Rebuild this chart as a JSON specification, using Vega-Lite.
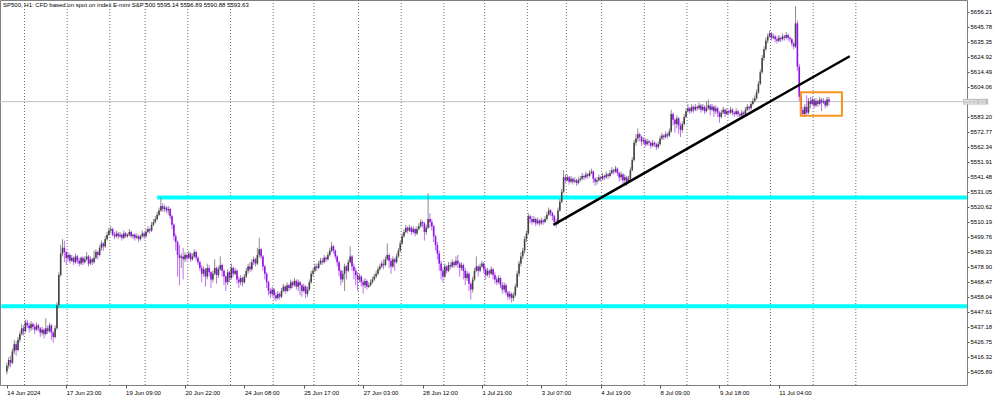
{
"$schema": "https://vega.github.io/schema/vega-lite/v6.json",
"width": 967,
"height": 385,
"autosize": {"type": "none"},
"padding": {"left": 0, "top": 0, "right": 33, "bottom": 12},
"background": "#ffffff",
"config": {"view": {"stroke": "#808080", "strokeWidth": 1}, "font": "Liberation Sans"},
"title": {"text": "SP500, H1:  CFD based on spot on index E-mini S&P 500  5595.14 5596.89 5590.88 5593.63", "anchor": "start", "frame": "group", "orient": "top", "offset": -8, "dx": 3, "fontSize": 6, "fontWeight": "normal", "color": "#000000", "font": "Liberation Sans"},
"datasets": {
"grid": [{"g":9.5},{"g":32.5},{"g":55.5},{"g":74.5},{"g":97.5},{"g":120.5},{"g":143.5},{"g":165.5},{"g":189.5},{"g":212.5},{"g":235.5},{"g":257.5},{"g":280.5},{"g":301.5},{"g":320.5},{"g":343.5},{"g":366.5},{"g":388.5},{"g":411.5},{"g":434.5},{"g":457.5}],
"levels": [{"a":-3,"b":518,"p":5451.3},{"a":81,"b":518,"p":5526.9}],
"trend": [{"a":294.5,"b":454.2,"p1":5507.9,"p2":5625.2}],
"box": [{"a":427.8,"b":450,"p1":5600.1,"p2":5583.9}],
"bars": [
{"i":0,"o":5406,"h":5412,"l":5404,"c":5410},{"i":1,"o":5410,"h":5416,"l":5408,"c":5414},{"i":2,"o":5414,"h":5417,"l":5409,"c":5412},{"i":3,"o":5412,"h":5422,"l":5411,"c":5420},{"i":4,"o":5420,"h":5428,"l":5418,"c":5425},
{"i":5,"o":5425,"h":5427,"l":5417,"c":5421},{"i":6,"o":5421,"h":5430,"l":5420,"c":5428},{"i":7,"o":5428,"h":5434,"l":5426,"c":5432},{"i":8,"o":5432,"h":5439,"l":5431,"c":5436},{"i":9,"o":5436,"h":5438,"l":5431,"c":5434},
{"i":10,"o":5434,"h":5442,"l":5433,"c":5440},{"i":11,"o":5440,"h":5442,"l":5436,"c":5438},{"i":12,"o":5438,"h":5440,"l":5433,"c":5436},{"i":13,"o":5436,"h":5441,"l":5434,"c":5439},{"i":14,"o":5439,"h":5440,"l":5435,"c":5437},
{"i":15,"o":5437,"h":5439,"l":5432,"c":5435},{"i":16,"o":5435,"h":5440,"l":5434,"c":5438},{"i":17,"o":5438,"h":5439,"l":5434,"c":5436},{"i":18,"o":5436,"h":5437,"l":5430,"c":5433},{"i":19,"o":5433,"h":5437,"l":5431,"c":5435},
{"i":20,"o":5435,"h":5436,"l":5429,"c":5432},{"i":21,"o":5432,"h":5443,"l":5431,"c":5436},{"i":22,"o":5436,"h":5438,"l":5432,"c":5434},{"i":23,"o":5434,"h":5440,"l":5433,"c":5438},{"i":24,"o":5438,"h":5439,"l":5428,"c":5433},
{"i":25,"o":5433,"h":5434,"l":5426,"c":5430},{"i":26,"o":5430,"h":5438,"l":5429,"c":5436},{"i":27,"o":5436,"h":5454,"l":5435,"c":5452},{"i":28,"o":5452,"h":5475,"l":5450,"c":5473},{"i":29,"o":5473,"h":5494,"l":5472,"c":5488},
{"i":30,"o":5488,"h":5498,"l":5486,"c":5492},{"i":31,"o":5492,"h":5497,"l":5482,"c":5489},{"i":32,"o":5489,"h":5490,"l":5480,"c":5485},{"i":33,"o":5485,"h":5489,"l":5483,"c":5487},{"i":34,"o":5487,"h":5488,"l":5481,"c":5483},
{"i":35,"o":5483,"h":5487,"l":5482,"c":5485},{"i":36,"o":5485,"h":5486,"l":5480,"c":5482},{"i":37,"o":5482,"h":5488,"l":5481,"c":5486},{"i":38,"o":5486,"h":5487,"l":5481,"c":5483},{"i":39,"o":5483,"h":5485,"l":5479,"c":5481},
{"i":40,"o":5481,"h":5486,"l":5480,"c":5485},{"i":41,"o":5485,"h":5486,"l":5480,"c":5482},{"i":42,"o":5482,"h":5486,"l":5481,"c":5484},{"i":43,"o":5484,"h":5489,"l":5483,"c":5486},{"i":44,"o":5486,"h":5487,"l":5479,"c":5481},
{"i":45,"o":5481,"h":5486,"l":5480,"c":5484},{"i":46,"o":5484,"h":5485,"l":5480,"c":5482},{"i":47,"o":5482,"h":5490,"l":5481,"c":5485},{"i":48,"o":5485,"h":5491,"l":5484,"c":5489},{"i":49,"o":5489,"h":5490,"l":5484,"c":5487},
{"i":50,"o":5487,"h":5494,"l":5486,"c":5492},{"i":51,"o":5492,"h":5497,"l":5490,"c":5495},{"i":52,"o":5495,"h":5496,"l":5490,"c":5493},{"i":53,"o":5493,"h":5500,"l":5492,"c":5498},{"i":54,"o":5498,"h":5503,"l":5497,"c":5501},
{"i":55,"o":5501,"h":5506,"l":5500,"c":5504},{"i":56,"o":5504,"h":5507,"l":5502,"c":5505},{"i":57,"o":5505,"h":5506,"l":5500,"c":5501},{"i":58,"o":5501,"h":5503,"l":5498,"c":5500},{"i":59,"o":5500,"h":5504,"l":5499,"c":5502},
{"i":60,"o":5502,"h":5503,"l":5498,"c":5500},{"i":61,"o":5500,"h":5503,"l":5499,"c":5501},{"i":62,"o":5501,"h":5502,"l":5497,"c":5499},{"i":63,"o":5499,"h":5504,"l":5498,"c":5502},{"i":64,"o":5502,"h":5503,"l":5499,"c":5500},
{"i":65,"o":5500,"h":5502,"l":5499,"c":5501},{"i":66,"o":5501,"h":5505,"l":5500,"c":5503},{"i":67,"o":5503,"h":5504,"l":5499,"c":5500},{"i":68,"o":5500,"h":5502,"l":5498,"c":5501},{"i":69,"o":5501,"h":5502,"l":5497,"c":5499},
{"i":70,"o":5499,"h":5502,"l":5498,"c":5500},{"i":71,"o":5500,"h":5501,"l":5496,"c":5498},{"i":72,"o":5498,"h":5501,"l":5497,"c":5500},{"i":73,"o":5500,"h":5504,"l":5499,"c":5502},{"i":74,"o":5502,"h":5503,"l":5498,"c":5500},
{"i":75,"o":5500,"h":5505,"l":5499,"c":5503},{"i":76,"o":5503,"h":5507,"l":5502,"c":5505},{"i":77,"o":5505,"h":5506,"l":5502,"c":5504},{"i":78,"o":5504,"h":5510,"l":5503,"c":5508},{"i":79,"o":5508,"h":5512,"l":5507,"c":5510},
{"i":80,"o":5510,"h":5514,"l":5509,"c":5512},{"i":81,"o":5512,"h":5517,"l":5511,"c":5515},{"i":82,"o":5515,"h":5520,"l":5514,"c":5518},{"i":83,"o":5518,"h":5527,"l":5517,"c":5521},{"i":84,"o":5521,"h":5523,"l":5517,"c":5519},
{"i":85,"o":5519,"h":5522,"l":5517,"c":5520},{"i":86,"o":5520,"h":5521,"l":5516,"c":5518},{"i":87,"o":5518,"h":5521,"l":5515,"c":5519},{"i":88,"o":5519,"h":5520,"l":5512,"c":5514},{"i":89,"o":5514,"h":5515,"l":5505,"c":5508},
{"i":90,"o":5508,"h":5509,"l":5497,"c":5500},{"i":91,"o":5500,"h":5502,"l":5490,"c":5496},{"i":92,"o":5496,"h":5497,"l":5472,"c":5487},{"i":93,"o":5487,"h":5494,"l":5466,"c":5485},{"i":94,"o":5485,"h":5488,"l":5478,"c":5486},
{"i":95,"o":5486,"h":5492,"l":5470,"c":5484},{"i":96,"o":5484,"h":5489,"l":5482,"c":5487},{"i":97,"o":5487,"h":5488,"l":5483,"c":5485},{"i":98,"o":5485,"h":5490,"l":5484,"c":5488},{"i":99,"o":5488,"h":5489,"l":5482,"c":5484},
{"i":100,"o":5484,"h":5488,"l":5483,"c":5486},{"i":101,"o":5486,"h":5491,"l":5485,"c":5489},{"i":102,"o":5489,"h":5490,"l":5483,"c":5485},{"i":103,"o":5485,"h":5486,"l":5480,"c":5482},{"i":104,"o":5482,"h":5483,"l":5476,"c":5478},
{"i":105,"o":5478,"h":5480,"l":5468,"c":5474},{"i":106,"o":5474,"h":5479,"l":5472,"c":5477},{"i":107,"o":5477,"h":5478,"l":5465,"c":5472},{"i":108,"o":5472,"h":5481,"l":5470,"c":5478},{"i":109,"o":5478,"h":5480,"l":5472,"c":5475},
{"i":110,"o":5475,"h":5476,"l":5464,"c":5470},{"i":111,"o":5470,"h":5476,"l":5468,"c":5474},{"i":112,"o":5474,"h":5484,"l":5473,"c":5478},{"i":113,"o":5478,"h":5479,"l":5467,"c":5473},{"i":114,"o":5473,"h":5479,"l":5471,"c":5477},
{"i":115,"o":5477,"h":5486,"l":5476,"c":5480},{"i":116,"o":5480,"h":5481,"l":5472,"c":5476},{"i":117,"o":5476,"h":5477,"l":5466,"c":5472},{"i":118,"o":5472,"h":5473,"l":5462,"c":5468},{"i":119,"o":5468,"h":5477,"l":5466,"c":5475},
{"i":120,"o":5475,"h":5476,"l":5468,"c":5471},{"i":121,"o":5471,"h":5481,"l":5470,"c":5478},{"i":122,"o":5478,"h":5479,"l":5472,"c":5474},{"i":123,"o":5474,"h":5478,"l":5473,"c":5476},{"i":124,"o":5476,"h":5477,"l":5467,"c":5470},
{"i":125,"o":5470,"h":5472,"l":5464,"c":5468},{"i":126,"o":5468,"h":5473,"l":5466,"c":5471},{"i":127,"o":5471,"h":5472,"l":5465,"c":5468},{"i":128,"o":5468,"h":5474,"l":5467,"c":5472},{"i":129,"o":5472,"h":5478,"l":5471,"c":5476},
{"i":130,"o":5476,"h":5481,"l":5474,"c":5479},{"i":131,"o":5479,"h":5482,"l":5475,"c":5477},{"i":132,"o":5477,"h":5484,"l":5476,"c":5482},{"i":133,"o":5482,"h":5486,"l":5480,"c":5484},{"i":134,"o":5484,"h":5485,"l":5479,"c":5481},
{"i":135,"o":5481,"h":5492,"l":5480,"c":5487},{"i":136,"o":5487,"h":5499,"l":5485,"c":5491},{"i":137,"o":5491,"h":5492,"l":5484,"c":5486},{"i":138,"o":5486,"h":5487,"l":5476,"c":5479},{"i":139,"o":5479,"h":5480,"l":5470,"c":5474},
{"i":140,"o":5474,"h":5475,"l":5464,"c":5468},{"i":141,"o":5468,"h":5469,"l":5459,"c":5462},{"i":142,"o":5462,"h":5464,"l":5457,"c":5460},{"i":143,"o":5460,"h":5465,"l":5458,"c":5463},{"i":144,"o":5463,"h":5464,"l":5456,"c":5459},
{"i":145,"o":5459,"h":5461,"l":5455,"c":5457},{"i":146,"o":5457,"h":5462,"l":5456,"c":5460},{"i":147,"o":5460,"h":5461,"l":5456,"c":5458},{"i":148,"o":5458,"h":5464,"l":5457,"c":5462},{"i":149,"o":5462,"h":5467,"l":5461,"c":5465},
{"i":150,"o":5465,"h":5466,"l":5460,"c":5462},{"i":151,"o":5462,"h":5468,"l":5461,"c":5466},{"i":152,"o":5466,"h":5467,"l":5462,"c":5464},{"i":153,"o":5464,"h":5470,"l":5463,"c":5468},{"i":154,"o":5468,"h":5469,"l":5464,"c":5466},
{"i":155,"o":5466,"h":5471,"l":5465,"c":5469},{"i":156,"o":5469,"h":5470,"l":5463,"c":5465},{"i":157,"o":5465,"h":5470,"l":5462,"c":5468},{"i":158,"o":5468,"h":5469,"l":5459,"c":5466},{"i":159,"o":5466,"h":5467,"l":5458,"c":5462},
{"i":160,"o":5462,"h":5467,"l":5461,"c":5465},{"i":161,"o":5465,"h":5466,"l":5457,"c":5460},{"i":162,"o":5460,"h":5465,"l":5458,"c":5463},{"i":163,"o":5463,"h":5470,"l":5462,"c":5468},{"i":164,"o":5468,"h":5476,"l":5467,"c":5474},
{"i":165,"o":5474,"h":5478,"l":5472,"c":5476},{"i":166,"o":5476,"h":5481,"l":5475,"c":5479},{"i":167,"o":5479,"h":5481,"l":5476,"c":5478},{"i":168,"o":5478,"h":5483,"l":5477,"c":5481},{"i":169,"o":5481,"h":5485,"l":5480,"c":5483},
{"i":170,"o":5483,"h":5485,"l":5480,"c":5482},{"i":171,"o":5482,"h":5487,"l":5481,"c":5485},{"i":172,"o":5485,"h":5486,"l":5482,"c":5484},{"i":173,"o":5484,"h":5489,"l":5483,"c":5487},{"i":174,"o":5487,"h":5492,"l":5486,"c":5490},
{"i":175,"o":5490,"h":5496,"l":5489,"c":5493},{"i":176,"o":5493,"h":5494,"l":5488,"c":5490},{"i":177,"o":5490,"h":5491,"l":5484,"c":5486},{"i":178,"o":5486,"h":5487,"l":5479,"c":5482},{"i":179,"o":5482,"h":5483,"l":5472,"c":5476},
{"i":180,"o":5476,"h":5477,"l":5466,"c":5470},{"i":181,"o":5470,"h":5476,"l":5468,"c":5474},{"i":182,"o":5474,"h":5481,"l":5462,"c":5479},{"i":183,"o":5479,"h":5480,"l":5470,"c":5476},{"i":184,"o":5476,"h":5484,"l":5475,"c":5482},
{"i":185,"o":5482,"h":5493,"l":5481,"c":5486},{"i":186,"o":5486,"h":5487,"l":5476,"c":5479},{"i":187,"o":5479,"h":5481,"l":5470,"c":5476},{"i":188,"o":5476,"h":5478,"l":5466,"c":5473},{"i":189,"o":5473,"h":5475,"l":5462,"c":5470},
{"i":190,"o":5470,"h":5474,"l":5468,"c":5472},{"i":191,"o":5472,"h":5473,"l":5465,"c":5468},{"i":192,"o":5468,"h":5470,"l":5460,"c":5466},{"i":193,"o":5466,"h":5471,"l":5464,"c":5469},{"i":194,"o":5469,"h":5470,"l":5463,"c":5465},
{"i":195,"o":5465,"h":5468,"l":5464,"c":5466},{"i":196,"o":5466,"h":5470,"l":5465,"c":5468},{"i":197,"o":5468,"h":5472,"l":5467,"c":5470},{"i":198,"o":5470,"h":5474,"l":5469,"c":5472},{"i":199,"o":5472,"h":5476,"l":5471,"c":5474},
{"i":200,"o":5474,"h":5479,"l":5473,"c":5477},{"i":201,"o":5477,"h":5481,"l":5476,"c":5479},{"i":202,"o":5479,"h":5483,"l":5478,"c":5481},{"i":203,"o":5481,"h":5484,"l":5477,"c":5480},{"i":204,"o":5480,"h":5486,"l":5479,"c":5484},
{"i":205,"o":5484,"h":5495,"l":5483,"c":5487},{"i":206,"o":5487,"h":5488,"l":5478,"c":5483},{"i":207,"o":5483,"h":5485,"l":5474,"c":5479},{"i":208,"o":5479,"h":5486,"l":5478,"c":5484},{"i":209,"o":5484,"h":5485,"l":5476,"c":5482},
{"i":210,"o":5482,"h":5488,"l":5481,"c":5486},{"i":211,"o":5486,"h":5492,"l":5485,"c":5490},{"i":212,"o":5490,"h":5497,"l":5489,"c":5495},{"i":213,"o":5495,"h":5502,"l":5494,"c":5500},{"i":214,"o":5500,"h":5505,"l":5499,"c":5503},
{"i":215,"o":5503,"h":5508,"l":5502,"c":5506},{"i":216,"o":5506,"h":5507,"l":5502,"c":5504},{"i":217,"o":5504,"h":5508,"l":5503,"c":5506},{"i":218,"o":5506,"h":5507,"l":5501,"c":5503},{"i":219,"o":5503,"h":5507,"l":5502,"c":5505},
{"i":220,"o":5505,"h":5506,"l":5500,"c":5502},{"i":221,"o":5502,"h":5507,"l":5501,"c":5505},{"i":222,"o":5505,"h":5509,"l":5504,"c":5507},{"i":223,"o":5507,"h":5512,"l":5506,"c":5510},{"i":224,"o":5510,"h":5511,"l":5506,"c":5509},
{"i":225,"o":5509,"h":5510,"l":5497,"c":5503},{"i":226,"o":5503,"h":5508,"l":5501,"c":5506},{"i":227,"o":5506,"h":5530,"l":5505,"c":5512},{"i":228,"o":5512,"h":5516,"l":5506,"c":5510},{"i":229,"o":5510,"h":5512,"l":5504,"c":5507},
{"i":230,"o":5507,"h":5508,"l":5496,"c":5500},{"i":231,"o":5500,"h":5501,"l":5490,"c":5494},{"i":232,"o":5494,"h":5496,"l":5484,"c":5488},{"i":233,"o":5488,"h":5490,"l":5476,"c":5481},{"i":234,"o":5481,"h":5483,"l":5470,"c":5476},
{"i":235,"o":5476,"h":5478,"l":5468,"c":5472},{"i":236,"o":5472,"h":5481,"l":5471,"c":5479},{"i":237,"o":5479,"h":5480,"l":5474,"c":5476},{"i":238,"o":5476,"h":5482,"l":5475,"c":5480},{"i":239,"o":5480,"h":5482,"l":5477,"c":5479},
{"i":240,"o":5479,"h":5484,"l":5478,"c":5482},{"i":241,"o":5482,"h":5483,"l":5478,"c":5480},{"i":242,"o":5480,"h":5486,"l":5479,"c":5483},{"i":243,"o":5483,"h":5487,"l":5478,"c":5481},{"i":244,"o":5481,"h":5482,"l":5472,"c":5478},
{"i":245,"o":5478,"h":5482,"l":5476,"c":5480},{"i":246,"o":5480,"h":5481,"l":5470,"c":5476},{"i":247,"o":5476,"h":5478,"l":5466,"c":5471},{"i":248,"o":5471,"h":5476,"l":5469,"c":5474},{"i":249,"o":5474,"h":5475,"l":5462,"c":5467},
{"i":250,"o":5467,"h":5468,"l":5456,"c":5463},{"i":251,"o":5463,"h":5472,"l":5461,"c":5470},{"i":252,"o":5470,"h":5478,"l":5469,"c":5476},{"i":253,"o":5476,"h":5486,"l":5475,"c":5479},{"i":254,"o":5479,"h":5480,"l":5472,"c":5476},
{"i":255,"o":5476,"h":5481,"l":5475,"c":5479},{"i":256,"o":5479,"h":5483,"l":5478,"c":5481},{"i":257,"o":5481,"h":5482,"l":5474,"c":5477},{"i":258,"o":5477,"h":5479,"l":5470,"c":5473},{"i":259,"o":5473,"h":5478,"l":5472,"c":5476},
{"i":260,"o":5476,"h":5477,"l":5471,"c":5474},{"i":261,"o":5474,"h":5479,"l":5473,"c":5477},{"i":262,"o":5477,"h":5478,"l":5470,"c":5473},{"i":263,"o":5473,"h":5475,"l":5467,"c":5470},{"i":264,"o":5470,"h":5472,"l":5466,"c":5468},
{"i":265,"o":5468,"h":5473,"l":5467,"c":5471},{"i":266,"o":5471,"h":5472,"l":5464,"c":5466},{"i":267,"o":5466,"h":5468,"l":5460,"c":5463},{"i":268,"o":5463,"h":5468,"l":5461,"c":5466},{"i":269,"o":5466,"h":5467,"l":5459,"c":5461},
{"i":270,"o":5461,"h":5462,"l":5456,"c":5458},{"i":271,"o":5458,"h":5462,"l":5456,"c":5460},{"i":272,"o":5460,"h":5461,"l":5454,"c":5457},{"i":273,"o":5457,"h":5461,"l":5455,"c":5459},{"i":274,"o":5459,"h":5467,"l":5458,"c":5465},
{"i":275,"o":5465,"h":5476,"l":5464,"c":5474},{"i":276,"o":5474,"h":5483,"l":5472,"c":5481},{"i":277,"o":5481,"h":5489,"l":5479,"c":5486},{"i":278,"o":5486,"h":5492,"l":5484,"c":5490},{"i":279,"o":5490,"h":5500,"l":5488,"c":5498},
{"i":280,"o":5498,"h":5504,"l":5496,"c":5502},{"i":281,"o":5502,"h":5516,"l":5501,"c":5514},{"i":282,"o":5514,"h":5515,"l":5509,"c":5512},{"i":283,"o":5512,"h":5514,"l":5508,"c":5510},{"i":284,"o":5510,"h":5514,"l":5509,"c":5512},
{"i":285,"o":5512,"h":5513,"l":5507,"c":5509},{"i":286,"o":5509,"h":5513,"l":5508,"c":5511},{"i":287,"o":5511,"h":5512,"l":5507,"c":5509},{"i":288,"o":5509,"h":5513,"l":5508,"c":5511},{"i":289,"o":5511,"h":5512,"l":5508,"c":5510},
{"i":290,"o":5510,"h":5514,"l":5509,"c":5512},{"i":291,"o":5512,"h":5517,"l":5511,"c":5515},{"i":292,"o":5515,"h":5520,"l":5514,"c":5518},{"i":293,"o":5518,"h":5519,"l":5514,"c":5516},{"i":294,"o":5516,"h":5517,"l":5511,"c":5514},
{"i":295,"o":5514,"h":5515,"l":5508,"c":5510},{"i":296,"o":5510,"h":5512,"l":5506,"c":5509},{"i":297,"o":5509,"h":5520,"l":5508,"c":5518},{"i":298,"o":5518,"h":5526,"l":5517,"c":5524},{"i":299,"o":5524,"h":5533,"l":5523,"c":5531},
{"i":300,"o":5531,"h":5546,"l":5530,"c":5541},{"i":301,"o":5541,"h":5543,"l":5537,"c":5539},{"i":302,"o":5539,"h":5543,"l":5538,"c":5541},{"i":303,"o":5541,"h":5542,"l":5536,"c":5538},{"i":304,"o":5538,"h":5542,"l":5537,"c":5540},
{"i":305,"o":5540,"h":5541,"l":5536,"c":5538},{"i":306,"o":5538,"h":5541,"l":5537,"c":5539},{"i":307,"o":5539,"h":5540,"l":5535,"c":5537},{"i":308,"o":5537,"h":5541,"l":5536,"c":5539},{"i":309,"o":5539,"h":5542,"l":5538,"c":5540},
{"i":310,"o":5540,"h":5544,"l":5539,"c":5542},{"i":311,"o":5542,"h":5543,"l":5539,"c":5541},{"i":312,"o":5541,"h":5545,"l":5540,"c":5543},{"i":313,"o":5543,"h":5544,"l":5540,"c":5542},{"i":314,"o":5542,"h":5546,"l":5541,"c":5544},
{"i":315,"o":5544,"h":5547,"l":5543,"c":5545},{"i":316,"o":5545,"h":5546,"l":5537,"c":5540},{"i":317,"o":5540,"h":5541,"l":5535,"c":5538},{"i":318,"o":5538,"h":5541,"l":5536,"c":5539},{"i":319,"o":5539,"h":5543,"l":5538,"c":5541},
{"i":320,"o":5541,"h":5542,"l":5538,"c":5540},{"i":321,"o":5540,"h":5544,"l":5539,"c":5542},{"i":322,"o":5542,"h":5543,"l":5539,"c":5541},{"i":323,"o":5541,"h":5545,"l":5540,"c":5543},{"i":324,"o":5543,"h":5544,"l":5540,"c":5542},
{"i":325,"o":5542,"h":5546,"l":5541,"c":5544},{"i":326,"o":5544,"h":5548,"l":5543,"c":5546},{"i":327,"o":5546,"h":5547,"l":5543,"c":5545},{"i":328,"o":5545,"h":5549,"l":5544,"c":5547},{"i":329,"o":5547,"h":5548,"l":5542,"c":5544},
{"i":330,"o":5544,"h":5545,"l":5538,"c":5541},{"i":331,"o":5541,"h":5545,"l":5539,"c":5543},{"i":332,"o":5543,"h":5544,"l":5536,"c":5539},{"i":333,"o":5539,"h":5543,"l":5537,"c":5541},{"i":334,"o":5541,"h":5542,"l":5535,"c":5538},
{"i":335,"o":5538,"h":5542,"l":5537,"c":5540},{"i":336,"o":5540,"h":5548,"l":5539,"c":5546},{"i":337,"o":5546,"h":5555,"l":5545,"c":5553},{"i":338,"o":5553,"h":5567,"l":5552,"c":5565},{"i":339,"o":5565,"h":5571,"l":5563,"c":5568},
{"i":340,"o":5568,"h":5575,"l":5566,"c":5571},{"i":341,"o":5571,"h":5572,"l":5566,"c":5569},{"i":342,"o":5569,"h":5570,"l":5563,"c":5566},{"i":343,"o":5566,"h":5569,"l":5564,"c":5567},{"i":344,"o":5567,"h":5568,"l":5562,"c":5564},
{"i":345,"o":5564,"h":5568,"l":5563,"c":5566},{"i":346,"o":5566,"h":5567,"l":5563,"c":5565},{"i":347,"o":5565,"h":5566,"l":5561,"c":5563},{"i":348,"o":5563,"h":5567,"l":5562,"c":5565},{"i":349,"o":5565,"h":5566,"l":5562,"c":5564},
{"i":350,"o":5564,"h":5565,"l":5560,"c":5562},{"i":351,"o":5562,"h":5566,"l":5561,"c":5564},{"i":352,"o":5564,"h":5570,"l":5563,"c":5568},{"i":353,"o":5568,"h":5572,"l":5567,"c":5570},{"i":354,"o":5570,"h":5571,"l":5567,"c":5569},
{"i":355,"o":5569,"h":5573,"l":5568,"c":5571},{"i":356,"o":5571,"h":5572,"l":5568,"c":5570},{"i":357,"o":5570,"h":5575,"l":5569,"c":5573},{"i":358,"o":5573,"h":5588,"l":5572,"c":5585},{"i":359,"o":5585,"h":5586,"l":5577,"c":5581},
{"i":360,"o":5581,"h":5582,"l":5572,"c":5578},{"i":361,"o":5578,"h":5584,"l":5575,"c":5582},{"i":362,"o":5582,"h":5583,"l":5571,"c":5577},{"i":363,"o":5577,"h":5579,"l":5569,"c":5574},{"i":364,"o":5574,"h":5580,"l":5572,"c":5578},
{"i":365,"o":5578,"h":5585,"l":5577,"c":5583},{"i":366,"o":5583,"h":5589,"l":5582,"c":5587},{"i":367,"o":5587,"h":5592,"l":5586,"c":5589},{"i":368,"o":5589,"h":5590,"l":5585,"c":5587},{"i":369,"o":5587,"h":5592,"l":5586,"c":5590},
{"i":370,"o":5590,"h":5591,"l":5586,"c":5588},{"i":371,"o":5588,"h":5592,"l":5587,"c":5590},{"i":372,"o":5590,"h":5591,"l":5587,"c":5589},{"i":373,"o":5589,"h":5593,"l":5588,"c":5591},{"i":374,"o":5591,"h":5592,"l":5586,"c":5588},
{"i":375,"o":5588,"h":5592,"l":5587,"c":5590},{"i":376,"o":5590,"h":5591,"l":5585,"c":5587},{"i":377,"o":5587,"h":5594,"l":5586,"c":5589},{"i":378,"o":5589,"h":5595,"l":5588,"c":5591},{"i":379,"o":5591,"h":5592,"l":5584,"c":5588},
{"i":380,"o":5588,"h":5592,"l":5587,"c":5590},{"i":381,"o":5590,"h":5591,"l":5583,"c":5587},{"i":382,"o":5587,"h":5591,"l":5585,"c":5589},{"i":383,"o":5589,"h":5590,"l":5583,"c":5586},{"i":384,"o":5586,"h":5587,"l":5579,"c":5583},
{"i":385,"o":5583,"h":5588,"l":5582,"c":5586},{"i":386,"o":5586,"h":5590,"l":5585,"c":5588},{"i":387,"o":5588,"h":5589,"l":5583,"c":5585},{"i":388,"o":5585,"h":5589,"l":5584,"c":5587},{"i":389,"o":5587,"h":5588,"l":5584,"c":5586},
{"i":390,"o":5586,"h":5590,"l":5585,"c":5588},{"i":391,"o":5588,"h":5589,"l":5584,"c":5586},{"i":392,"o":5586,"h":5587,"l":5583,"c":5585},{"i":393,"o":5585,"h":5589,"l":5584,"c":5587},{"i":394,"o":5587,"h":5588,"l":5583,"c":5585},
{"i":395,"o":5585,"h":5586,"l":5582,"c":5584},{"i":396,"o":5584,"h":5588,"l":5583,"c":5586},{"i":397,"o":5586,"h":5587,"l":5583,"c":5585},{"i":398,"o":5585,"h":5590,"l":5584,"c":5588},{"i":399,"o":5588,"h":5592,"l":5587,"c":5590},
{"i":400,"o":5590,"h":5591,"l":5587,"c":5589},{"i":401,"o":5589,"h":5594,"l":5588,"c":5592},{"i":402,"o":5592,"h":5596,"l":5591,"c":5594},{"i":403,"o":5594,"h":5598,"l":5593,"c":5596},{"i":404,"o":5596,"h":5602,"l":5595,"c":5600},
{"i":405,"o":5600,"h":5608,"l":5599,"c":5606},{"i":406,"o":5606,"h":5616,"l":5605,"c":5614},{"i":407,"o":5614,"h":5626,"l":5613,"c":5624},{"i":408,"o":5624,"h":5632,"l":5622,"c":5630},{"i":409,"o":5630,"h":5638,"l":5629,"c":5636},
{"i":410,"o":5636,"h":5641,"l":5634,"c":5639},{"i":411,"o":5639,"h":5643,"l":5638,"c":5641},{"i":412,"o":5641,"h":5642,"l":5636,"c":5638},{"i":413,"o":5638,"h":5641,"l":5637,"c":5639},{"i":414,"o":5639,"h":5640,"l":5635,"c":5637},
{"i":415,"o":5637,"h":5639,"l":5634,"c":5636},{"i":416,"o":5636,"h":5640,"l":5635,"c":5638},{"i":417,"o":5638,"h":5639,"l":5635,"c":5637},{"i":418,"o":5637,"h":5641,"l":5636,"c":5639},{"i":419,"o":5639,"h":5640,"l":5636,"c":5638},
{"i":420,"o":5638,"h":5642,"l":5637,"c":5640},{"i":421,"o":5640,"h":5641,"l":5636,"c":5638},{"i":422,"o":5638,"h":5639,"l":5635,"c":5637},{"i":423,"o":5637,"h":5638,"l":5632,"c":5634},{"i":424,"o":5634,"h":5635,"l":5630,"c":5632},
{"i":425,"o":5632,"h":5660,"l":5631,"c":5648},{"i":426,"o":5648,"h":5650,"l":5615,"c":5618},{"i":427,"o":5618,"h":5620,"l":5594,"c":5597},{"i":428,"o":5597,"h":5599,"l":5585,"c":5588},{"i":429,"o":5588,"h":5590,"l":5583,"c":5585},
{"i":430,"o":5585,"h":5592,"l":5583,"c":5590},{"i":431,"o":5590,"h":5598,"l":5584,"c":5586},{"i":432,"o":5586,"h":5596,"l":5585,"c":5594},{"i":433,"o":5594,"h":5597,"l":5589,"c":5592},{"i":434,"o":5592,"h":5597,"l":5591,"c":5595},
{"i":435,"o":5595,"h":5596,"l":5589,"c":5591},{"i":436,"o":5591,"h":5596,"l":5590,"c":5594},{"i":437,"o":5594,"h":5595,"l":5590,"c":5592},{"i":438,"o":5592,"h":5597,"l":5591,"c":5595},{"i":439,"o":5595,"h":5596,"l":5587,"c":5593},
{"i":440,"o":5593,"h":5596,"l":5592,"c":5594},{"i":441,"o":5594,"h":5595,"l":5589,"c":5591},{"i":442,"o":5591,"h":5597,"l":5590,"c":5595.14},{"i":443,"o":5595.14,"h":5596.89,"l":5590.88,"c":5593.63}
]
},
"layer": [
{
"data": {"name": "grid"},
"mark": {"type": "rule", "color": "#707070", "strokeWidth": 1, "strokeDash": [1, 2]},
"encoding": {
"x": {"field": "g", "type": "quantitative", "title": null, "scale": {"domain": [-1, 514.7], "nice": false, "zero": false},
"axis": {"values": [0,32,64,96,128,160,192,224,256,288,320,352,384,416], "tickCount": 30, "labelExpr": "['14 Jun 2024','17 Jun 23:00','19 Jun 09:00','20 Jun 22:00','24 Jun 08:00','25 Jun 17:00','27 Jun 03:00','28 Jun 12:00','1 Jul 21:00','3 Jul 07:00','4 Jul 19:00','8 Jul 09:00','9 Jul 18:00','11 Jul 04:00'][round(datum.value/32)]", "labelAlign": "left", "labelFontSize": 6, "labelColor": "#000000", "labelFont": "Liberation Sans", "tickSize": 3, "tickColor": "#555555", "labelPadding": 1, "domain": false, "grid": false, "labelOverlap": false, "labelBound": false, "labelFlush": false}}
}
},
{
"data": {"values": [{}]},
"mark": {"type": "rule", "color": "#c0c0c0", "strokeWidth": 1},
"encoding": {
"y": {"datum": 5593.63, "type": "quantitative", "title": null, "scale": {"domain": [5396.6, 5664.3], "nice": false, "zero": false},
"axis": {"orient": "right", "values": [5405.89,5416.32,5426.75,5437.18,5447.61,5458.04,5468.47,5478.90,5489.33,5499.76,5510.19,5520.62,5531.05,5541.48,5551.91,5562.34,5572.77,5583.20,5604.06,5614.49,5624.92,5635.35,5645.78,5656.21], "tickCount": 40, "format": ".2f", "labelFontSize": 6, "labelColor": "#000000", "labelFont": "Liberation Sans", "tickSize": 2, "tickColor": "#555555", "labelPadding": 1, "domain": false, "grid": false, "labelOverlap": false, "labelBound": false, "labelFlush": false}}
}
},
{
"data": {"name": "levels"},
"mark": {"type": "rule", "color": "#00ffff", "strokeWidth": 4, "clip": true},
"encoding": {
"x": {"field": "a", "type": "quantitative", "title": null},
"x2": {"field": "b"},
"y": {"field": "p", "type": "quantitative", "title": null}
}
},
{
"data": {"name": "bars"},
"mark": {"type": "rule", "strokeWidth": 1},
"encoding": {
"x": {"field": "i", "type": "quantitative", "title": null},
"y": {"field": "l", "type": "quantitative", "title": null},
"y2": {"field": "h"},
"color": {"condition": {"test": "datum.c < datum.o", "value": "#c070f0"}, "value": "#8c8c8c"}
}
},
{
"data": {"name": "bars"},
"mark": {"type": "bar", "width": 1.6},
"encoding": {
"x": {"field": "i", "type": "quantitative", "title": null},
"y": {"field": "o", "type": "quantitative", "title": null},
"y2": {"field": "c"},
"color": {"condition": {"test": "datum.c < datum.o", "value": "#9010e8"}, "value": "#444444"}
}
},
{
"data": {"name": "trend"},
"mark": {"type": "rule", "color": "#000000", "strokeWidth": 2.5},
"encoding": {
"x": {"field": "a", "type": "quantitative", "title": null},
"x2": {"field": "b"},
"y": {"field": "p1", "type": "quantitative", "title": null},
"y2": {"field": "p2"}
}
},
{
"data": {"name": "box"},
"mark": {"type": "rect", "fill": null, "fillOpacity": 0, "stroke": "#f7931e", "strokeWidth": 2},
"encoding": {
"x": {"field": "a", "type": "quantitative", "title": null},
"x2": {"field": "b"},
"y": {"field": "p1", "type": "quantitative", "title": null},
"y2": {"field": "p2"}
}
},
{
"data": {"values": [{}]},
"mark": {"type": "rect", "fill": "#c0c0c0"},
"encoding": {
"x": {"datum": 515.3, "type": "quantitative"},
"x2": {"datum": 528.8},
"y": {"datum": 5595.6, "type": "quantitative"},
"y2": {"datum": 5591.6}
}
},
{
"data": {"values": [{}]},
"mark": {"type": "text", "text": "5593.63", "align": "left", "baseline": "middle", "fontSize": 6, "font": "Liberation Sans", "color": "#f4f4f4"},
"encoding": {
"x": {"datum": 515.6, "type": "quantitative"},
"y": {"datum": 5593.63, "type": "quantitative"}
}
}
]
}
